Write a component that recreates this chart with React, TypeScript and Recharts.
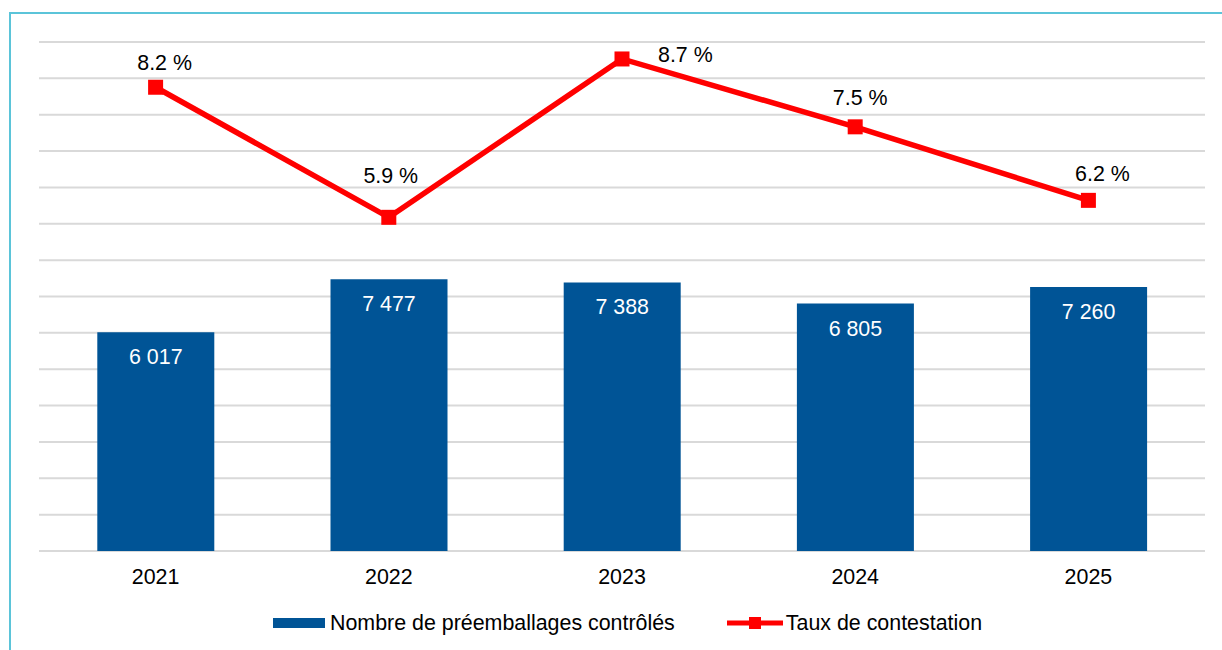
import React from 'react';
import { ComposedChart, Bar, Line, XAxis, YAxis, CartesianGrid, LabelList, Legend } from 'recharts';

const years = ['2021', '2022', '2023', '2024', '2025'];
const controles = [6017, 7477, 7388, 6805, 7260];
const tauxContestation = [8.2, 5.9, 8.7, 7.5, 6.2];
const countTicks = [0, 1000, 2000, 3000, 4000, 5000, 6000, 7000, 8000, 9000, 10000, 11000, 12000, 13000, 14000];
const barLabel = 'Nombre de préemballages contrôlés';
const lineLabel = 'Taux de contestation';

const data = years.map((y, i) => ({ year: y, controles: controles[i], taux: tauxContestation[i] }));

// label placement tweaks (dx from point, dy baseline from point, anchor)
const lineLabelPlacement = [
  { dx: 9, dy: -17, anchor: 'middle' },
  { dx: 2, dy: -34, anchor: 'middle' },
  { dx: 36, dy: 3, anchor: 'start' },
  { dx: 5, dy: -22, anchor: 'middle' },
  { dx: 14, dy: -19, anchor: 'middle' },
];

const FONT = '"Liberation Sans", Arial, sans-serif';
const FS = 21.4;
const BLUE = '#005496';
const RED = '#FF0000';

const fmtThousands = (v: number) => String(v).replace(/\B(?=(\d{3})+(?!\d))/g, ' ');

const BarValueLabel = (props: any) => {
  const { x, y, width, value } = props;
  return (
    <text x={x + width / 2} y={y + 32} textAnchor="middle" fill="#ffffff" fontSize={FS} fontFamily={FONT}>
      {fmtThousands(value)}
    </text>
  );
};

const LineValueLabel = (props: any) => {
  const { x, y, value, index } = props;
  const p = lineLabelPlacement[index] || { dx: 0, dy: -18, anchor: 'middle' };
  return (
    <text x={x + p.dx} y={y + p.dy} textAnchor={p.anchor} fill="#000000" fontSize={FS} fontFamily={FONT}>
      {`${Number(value).toFixed(1)} %`}
    </text>
  );
};

const SquareDot = (props: any) => {
  const { cx, cy } = props;
  if (cx == null || cy == null) return null;
  return <rect x={cx - 7.5} y={cy - 7.5} width={15} height={15} fill={RED} />;
};

const LegendContent = () => (
  <div style={{ display: 'flex', alignItems: 'center', height: 30, fontFamily: FONT, fontSize: FS, color: '#000', whiteSpace: 'nowrap' }}>
    <span style={{ display: 'inline-block', width: 52, height: 10, background: BLUE, marginRight: 5 }} />
    <span>{barLabel}</span>
    <svg width={56} height={14} style={{ marginLeft: 52, marginRight: 3 }}>
      <line x1={0} y1={7} x2={56} y2={7} stroke={RED} strokeWidth={5} />
      <rect x={22} y={1} width={12} height={12} fill={RED} />
    </svg>
    <span>{lineLabel}</span>
  </div>
);

export default function App() {
  return (
    <div style={{ position: 'absolute', left: 0, top: 0, width: 1222, height: 650, overflow: 'hidden', background: '#fff' }}>
      <div style={{ position: 'absolute', left: 9, top: 12, width: 1300, height: 700, borderLeft: '2px solid #5BC4D9', borderTop: '2px solid #5BC4D9' }} />
      <div style={{ position: 'absolute', left: 0, top: 0 }}>
        <ComposedChart
          width={1222}
          height={650}
          data={data}
          margin={{ top: 42, right: 17, left: 39, bottom: 29 }}
          barCategoryGap="25%"
        >
          <CartesianGrid yAxisId="left" vertical={false} stroke="#d9d9d9" strokeWidth={2} />
          <XAxis
            dataKey="year"
            height={40}
            tickLine={false}
            axisLine={false}
            tickMargin={12}
            tick={{ fill: '#000', fontSize: FS, fontFamily: FONT }}
          />
          <YAxis yAxisId="left" hide domain={[0, 14000]} ticks={countTicks} />
          <YAxis yAxisId="right" orientation="right" hide domain={[0, 9]} />
          <Legend
            verticalAlign="bottom"
            wrapperStyle={{ position: 'absolute', left: 273, top: 608, height: 30, width: 760 }}
            content={LegendContent}
          />
          <Bar yAxisId="left" dataKey="controles" name={barLabel} fill={BLUE} isAnimationActive={false}>
            <LabelList dataKey="controles" content={BarValueLabel} />
          </Bar>
          <Line
            yAxisId="right"
            dataKey="taux"
            name={lineLabel}
            stroke={RED}
            strokeWidth={5.5}
            dot={<SquareDot />}
            activeDot={false}
            isAnimationActive={false}
          >
            <LabelList dataKey="taux" content={LineValueLabel} />
          </Line>
        </ComposedChart>
      </div>
    </div>
  );
}
